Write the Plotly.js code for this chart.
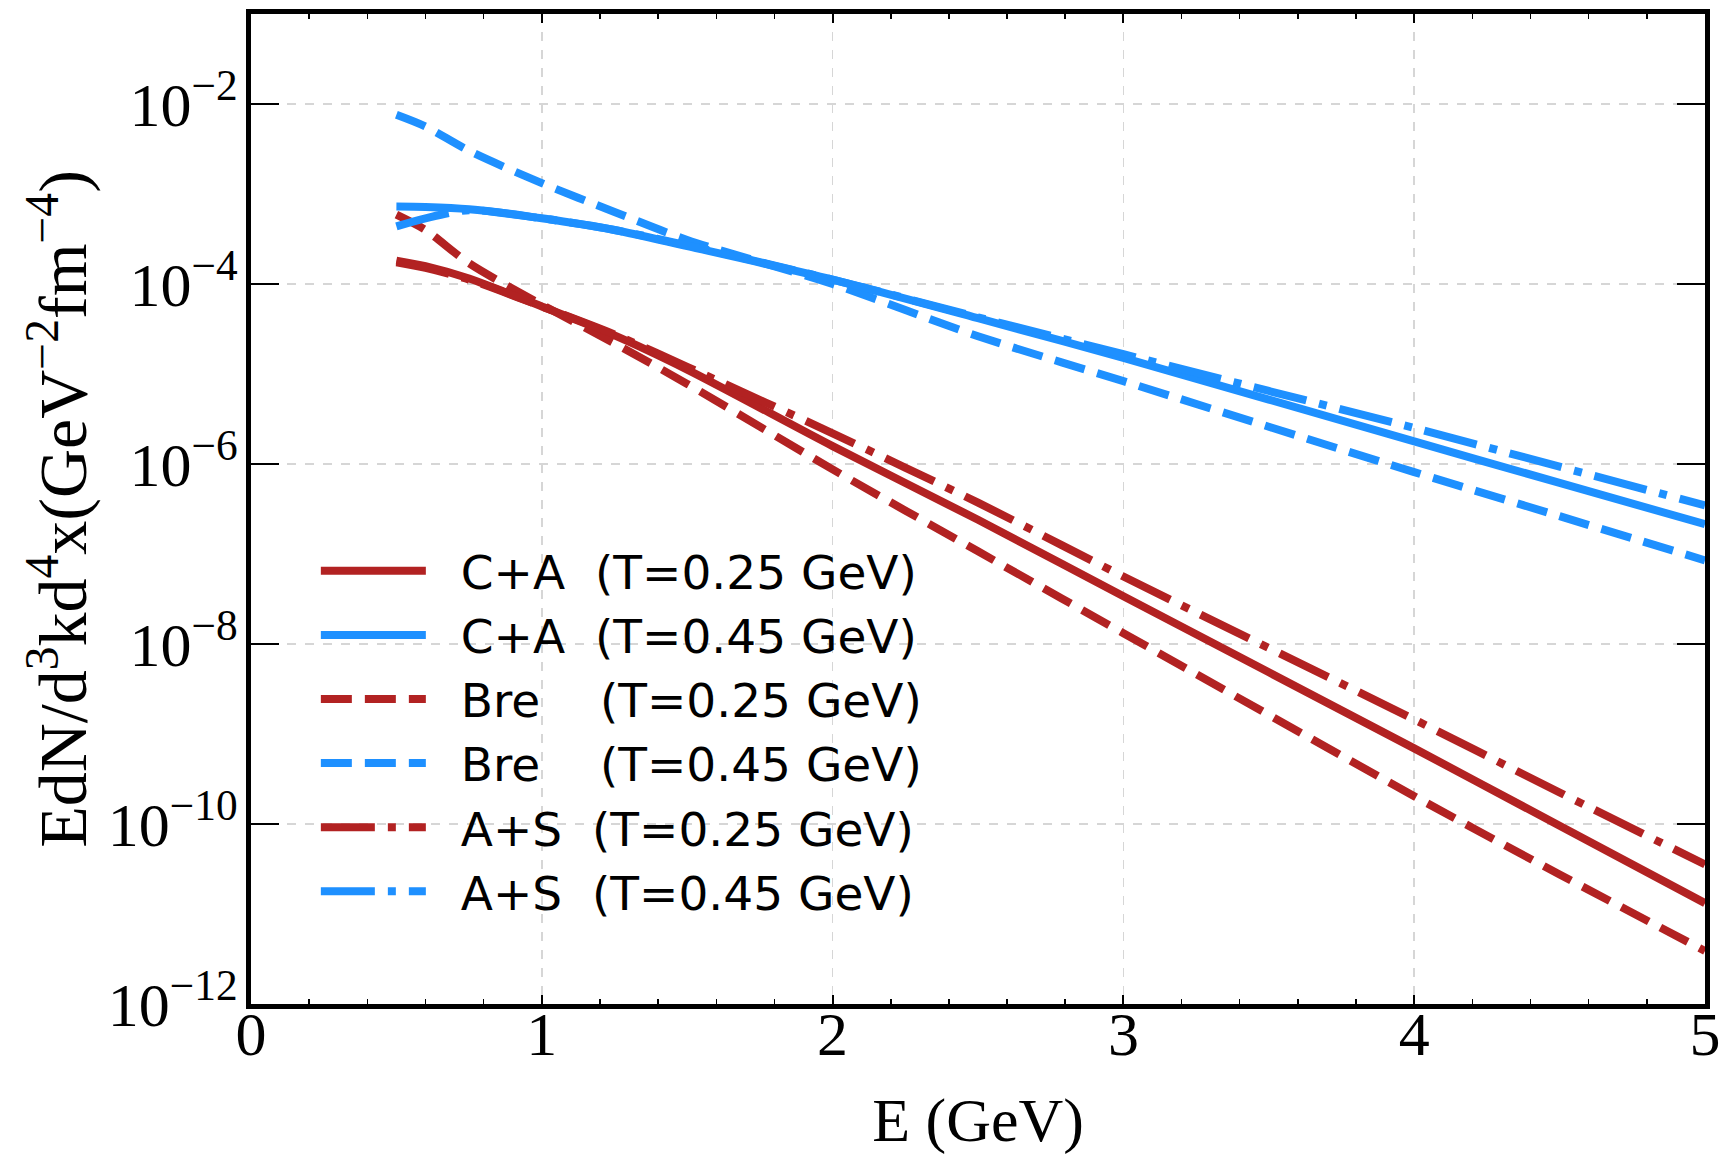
<!DOCTYPE html>
<html>
<head>
<meta charset="utf-8">
<script src="https://cdn.plot.ly/plotly-3.0.1.min.js"></script>
<style>html,body{margin:0;padding:0;background:#fff;}#plot{width:1736px;height:1163px;}</style>
</head>
<body>
<div id="plot"></div>
<script>
// Photon energy E (GeV)
const energy = [0.5, 0.6, 0.75, 1.0, 1.25, 1.5, 2.0, 2.5, 3.0, 4.0, 4.5, 5.0];

// Rates EdN/d^3k d^4x (GeV^-2 fm^-4)
const caT025  = [1.82e-4, 1.58e-4, 1.15e-4, 5.62e-5, 2.69e-5, 1.12e-5, 1.58e-6, 2.40e-7, 3.39e-8, 6.92e-10, 9.55e-11, 1.32e-11];
const caT045  = [7.24e-4, 7.16e-4, 6.76e-4, 5.37e-4, 3.98e-4, 2.63e-4, 1.12e-4, 4.17e-5, 1.51e-5, 1.78e-6, 6.17e-7, 2.14e-7];
const breT025 = [5.89e-4, 3.98e-4, 1.70e-4, 5.89e-5, 2.19e-5, 7.76e-6, 8.71e-7, 1.07e-7, 1.32e-8, 2.04e-10, 2.75e-11, 3.89e-12];
const breT045 = [7.59e-3, 5.62e-3, 3.02e-3, 1.32e-3, 6.31e-4, 3.09e-4, 1.00e-4, 2.63e-5, 8.32e-6, 8.13e-7, 2.63e-7, 8.51e-8];
const asT025  = [1.74e-4, 1.51e-4, 1.12e-4, 5.62e-5, 2.75e-5, 1.20e-5, 2.19e-6, 3.72e-7, 5.62e-8, 1.45e-9, 2.24e-10, 3.55e-11];
const asT045  = [4.37e-4, 5.37e-4, 6.61e-4, 5.37e-4, 3.98e-4, 2.69e-4, 1.12e-4, 4.27e-5, 1.66e-5, 2.51e-6, 9.33e-7, 3.47e-7];

const NB = '\u00A0';
const seriesNames = [
  NB+NB + 'C+A' + NB+NB + '(T=0.25 GeV)',
  NB+NB + 'C+A' + NB+NB + '(T=0.45 GeV)',
  NB+NB + 'Bre' + NB+NB+NB+NB + '(T=0.25 GeV)',
  NB+NB + 'Bre' + NB+NB+NB+NB + '(T=0.45 GeV)',
  NB+NB + 'A+S' + NB+NB + '(T=0.25 GeV)',
  NB+NB + 'A+S' + NB+NB + '(T=0.45 GeV)'
];

const yTickVals = [1e-12, 1e-10, 1e-8, 1e-6, 1e-4, 1e-2];
const yTickText = ['10<sup>\u221212</sup>', '10<sup>\u221210</sup>', '10<sup>\u22128</sup>', '10<sup>\u22126</sup>', '10<sup>\u22124</sup>', '10<sup>\u22122</sup>'];
const xTickVals = [0, 1, 2, 3, 4, 5];

const RED = '#B22222', BLUE = '#1E90FF';
const LW = 8;
const DASH = '31px,13px';
const DASHDOT = '54px,13px,8px,13px';

const seriesValues = [caT025, caT045, breT025, breT045, asT025, asT045];
const seriesColors = [RED, BLUE, RED, BLUE, RED, BLUE];
const seriesDash = ['solid', 'solid', DASH, DASH, DASHDOT, DASHDOT];

const traces = seriesValues.map((v, i) => ({
  x: energy, y: v, name: seriesNames[i], type: 'scatter', mode: 'lines',
  line: {color: seriesColors[i], width: LW, dash: seriesDash[i], shape: 'spline', smoothing: 0.8}
}));

const serif = 'Liberation Serif, Times New Roman, serif';
const layout = {
  width: 1736, height: 1163,
  margin: {l: 251, r: 31, t: 14, b: 159},
  paper_bgcolor: '#fff', plot_bgcolor: '#fff',
  showlegend: true,
  legend: {
    x: 0.0446, y: 0.475, xanchor: 'left', yanchor: 'top',
    bgcolor: 'rgba(0,0,0,0)', borderwidth: 0,
    font: {family: 'DejaVu Sans, sans-serif', size: 47, color: '#000'},
    itemwidth: 105, tracegroupgap: 0
  },
  xaxis: {
    range: [0, 5], tickvals: xTickVals, ticks: 'inside', ticklen: 9, tickwidth: 2, tickcolor: '#000',
    showline: true, linewidth: 5, linecolor: '#000', mirror: 'ticks',
    showgrid: true, gridcolor: '#d6d6d6', gridwidth: 1.5, griddash: 'dash', zeroline: false,
    minor: {dtick: 0.2, ticks: 'inside', ticklen: 5, tickwidth: 1.5, tickcolor: '#000', showgrid: false},
    tickfont: {family: serif, size: 62, color: '#000'},
    ticklabelstandoff: -28,
    title: {text: 'E (GeV)', font: {family: serif, size: 62, color: '#000'}, standoff: 32}
  },
  yaxis: {
    type: 'log', range: [-12, -1], tickvals: yTickVals, ticktext: yTickText,
    ticks: 'inside', ticklen: 28, tickwidth: 2, tickcolor: '#000',
    showline: true, linewidth: 5, linecolor: '#000', mirror: 'ticks',
    showgrid: true, gridcolor: '#d6d6d6', gridwidth: 1.5, griddash: 'dash', zeroline: false,
    tickfont: {family: serif, size: 62, color: '#000'},
    ticklabelstandoff: -4,
    title: {text: 'EdN/d<sup>3</sup>kd<sup>4</sup>x(GeV<sup>\u22122</sup>fm<sup>\u22124</sup>)', font: {family: serif, size: 68, color: '#000'}, standoff: 0}
  }
};

Plotly.newPlot('plot', traces, layout, {displayModeBar: false, staticPlot: true});
</script>
</body>
</html>
